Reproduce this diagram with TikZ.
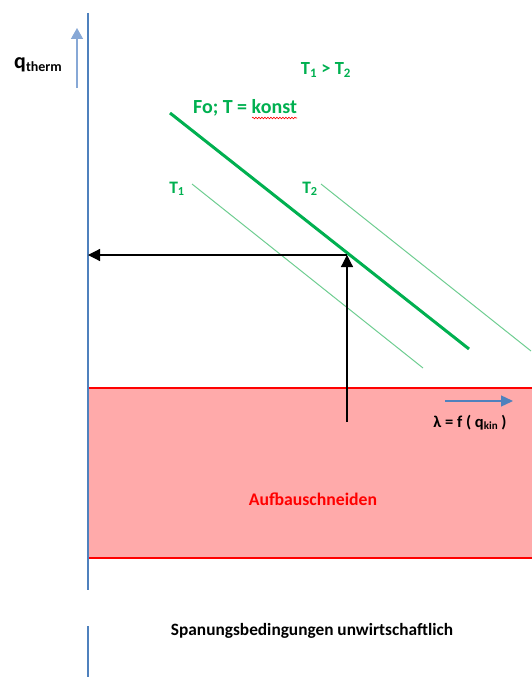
\documentclass[tikz,border=0pt]{standalone}
\usepackage{fontspec}
\setmainfont{Carlito}
\usetikzlibrary{positioning}
\usetikzlibrary{arrows.meta}
\usetikzlibrary{decorations.pathmorphing}
\definecolor{blue}{RGB}{79,129,189}
\definecolor{paleblue}{RGB}{135,168,214}
\definecolor{green}{RGB}{0,176,80}
\definecolor{lightgreen}{RGB}{110,205,145}
\definecolor{red}{RGB}{255,0,0}
\definecolor{lightred}{RGB}{255,170,170}
\newcommand{\fs}[1]{\fontsize{#1}{#1}\selectfont}

\begin{document}
\begin{tikzpicture}[x=1pt, y=-1pt, every node/.style={font=\bfseries, inner sep=0pt}]
    \useasboundingbox (0,0) rectangle (531,677);

    \fill[lightred] (88,388) rectangle (535,558);
    \draw[red, line width=2pt] (535,388) -- (88,388) -- (88,558) -- (535,558);

    \coordinate (ytop) at (88,13);
    \coordinate (ybot) at (88,590);
    \coordinate (ylow) at (88,626);
    \coordinate (yend) at (88,677);
    \draw[blue, line width=2pt] (ytop) -- (ybot);
    \draw[blue, line width=2pt] (ylow) -- (yend);

    \coordinate (qs) at (77,88);
    \coordinate (qe) at (77,28);
    \draw[paleblue, line width=1.5pt, -{Triangle[length=11pt, width=12pt]}] (qs) -- (qe);
    \node[anchor=base west] (qtherm) at (14,68) {\fs{22}q\raisebox{-3pt}{\fs{14}therm}};

    \node[green, font=\bfseries\fs{18.5}] (rel) at (326,70) {T\textsubscript{1} > T\textsubscript{2}};
    \node[green, font=\bfseries\fs{20}] (fo) at (245,108) {Fo; T = konst};
    \draw[red, line width=0.6pt, decorate, decoration={snake, amplitude=0.8pt, segment length=3pt}] (252,118) -- (297,118);

    \coordinate (fa) at (170,113);
    \coordinate (fb) at (469,349);
    \draw[green, line width=3pt] (fa) -- (fb);

    \node[green, font=\bfseries\fs{17.5}] (t1) at (177,189) {T\textsubscript{1}};
    \coordinate (t1a) at (192,184);
    \coordinate (t1b) at (423,368);
    \draw[lightgreen, line width=1pt] (t1a) -- (t1b);

    \node[green, font=\bfseries\fs{17.5}] (t2) at (310,189) {T\textsubscript{2}};
    \coordinate (t2a) at (321,184);
    \coordinate (t2b) at (531,351);
    \draw[lightgreen, line width=1pt] (t2a) -- (t2b);

    \coordinate (op) at (347,255);
    \coordinate (start) at (347,422);
    \coordinate (qaxis) at (88,255);
    \draw[line width=1.2pt, -{Triangle[length=12pt, width=12pt]}] (start) -- (op);
    \draw[line width=1.2pt, -{Triangle[length=12pt, width=12pt]}] (op) -- (qaxis);

    \coordinate (xs) at (445,401);
    \coordinate (xe) at (513,401);
    \draw[blue, line width=1.3pt, -{Triangle[length=12pt, width=11pt]}] (xs) -- (xe);
    \node[font=\bfseries\fs{16.5}] (lam) at (470,423) {λ = f ( q\raisebox{-1.5pt}{\fs{11}kin} )};

    \node[red, font=\bfseries\fs{17.7}] (zone) at (313,499) {Aufbauschneiden};
    \node[font=\bfseries\fs{17.3}] (uneco) at (312,631) {Spanungsbedingungen unwirtschaftlich};
\end{tikzpicture}
\end{document}
